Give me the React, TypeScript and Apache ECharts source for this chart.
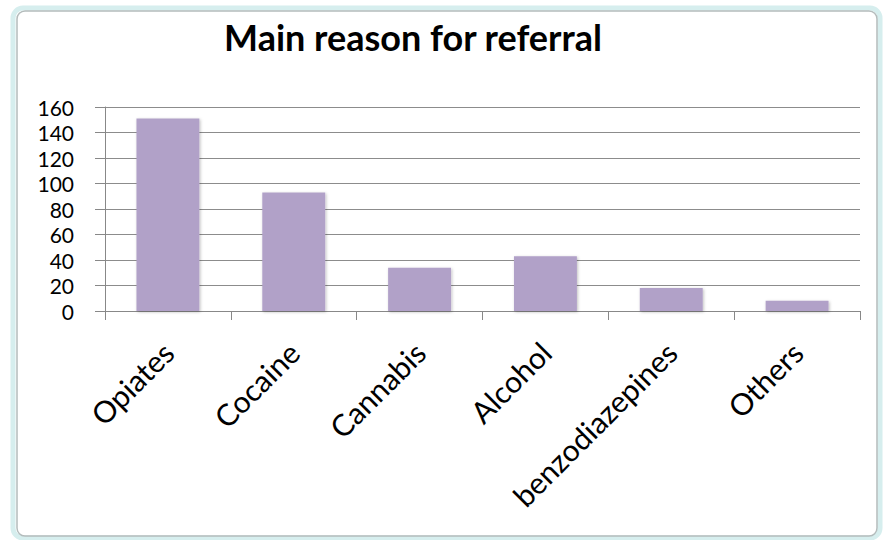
import React, { useEffect, useRef } from "react";
import * as echarts from "echarts";

const categories = ["Opiates", "Cocaine", "Cannabis", "Alcohol", "benzodiazepines", "Others"];
const values = [151, 93, 34, 43, 18, 8];
const titleText = "Main reason for referral";

export default function App() {
  const ref = useRef<HTMLDivElement>(null);
  useEffect(() => {
    if (!ref.current) return;
    const chart = echarts.init(ref.current, null, { renderer: "svg" });
    chart.setOption({
      animation: false,
      backgroundColor: "#ffffff",
      textStyle: { fontFamily: "Lato" },
      graphic: [
        {
          type: "rect",
          shape: { x: 13, y: 8, width: 867, height: 530, r: 10 },
          style: { fill: "none", stroke: "#d6eeee", lineWidth: 5 },
          silent: true,
        },
        {
          type: "rect",
          shape: { x: 17, y: 11, width: 860, height: 525, r: 8 },
          style: { fill: "none", stroke: "#b4bcbc", lineWidth: 1.5 },
          silent: true,
        },
        {
          type: "text",
          x: 413,
          y: 37,
          style: {
            text: titleText,
            font: "bold 36px Lato",
            fill: "#000",
            align: "center",
            verticalAlign: "middle",
          },
        },
      ],
      grid: { left: 105, right: 26, top: 107, bottom: 229, containLabel: false },
      xAxis: {
        type: "category",
        data: categories,
        axisLine: { lineStyle: { color: "#888", width: 1 } },
        axisTick: { show: true, length: 9, alignWithLabel: false, lineStyle: { color: "#888" } },
        axisLabel: {
          rotate: 45,
          interval: 0,
          margin: 36,
          fontSize: 30,
          color: "#000",
          fontFamily: "Lato",
        },
      },
      yAxis: {
        type: "value",
        min: 0,
        max: 160,
        interval: 20,
        axisLine: { show: true, lineStyle: { color: "#888", width: 1 } },
        axisTick: { show: true, inside: false, length: 10, lineStyle: { color: "#888" } },
        splitLine: { show: true, lineStyle: { color: "#8c8c8c", width: 1 } },
        axisLabel: { fontSize: 21, lineHeight: 21, color: "#000", margin: 31, fontFamily: "Lato" },
      },
      series: [
        {
          type: "bar",
          data: values,
          barWidth: "50%",
          itemStyle: {
            color: "#b1a1c8",
            shadowColor: "rgba(0,0,0,0.25)",
            shadowBlur: 3,
            shadowOffsetX: 1,
            shadowOffsetY: 1,
          },
        },
      ],
    });
    return () => chart.dispose();
  }, []);
  return (
    <div
      ref={ref}
      style={{ position: "fixed", left: 0, top: 0, width: 886, height: 540, background: "#fff" }}
    />
  );
}
